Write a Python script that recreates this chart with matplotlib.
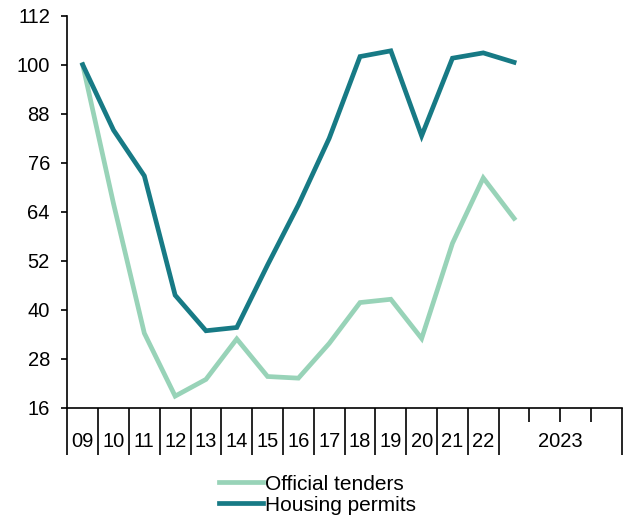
import numpy as np
import matplotlib
matplotlib.use("Agg")
import matplotlib.pyplot as plt

plt.rcParams['font.family'] = ['Liberation Sans', 'DejaVu Sans']

# Data (index)
years = ["09", "10", "11", "12", "13", "14", "15", "16", "17", "18", "19", "20", "21", "22", "2023"]
tenders = [100, 66, 34.3, 18.9, 23, 32.9, 23.7, 23.3, 31.8, 41.8, 42.6, 33, 56.3, 72.3, 62.4]
permits = [100, 84, 72.8, 43.6, 34.9, 35.7, 51, 65.7, 82, 102, 103.4, 82.6, 101.6, 102.9, 100.6]

# category layout: 14 single-year slots, last year spread over 4 slots
slot_widths = [1] * 14 + [4]
yticks = np.arange(16, 113, 12)

c_light = "#98d3b8"
c_dark = "#177a85"

fig = plt.figure(figsize=(6.26, 5.18), dpi=100)
ax = fig.add_axes([0.1075, 0.2124, 0.886, 0.7573])

x = np.arange(len(years)) + 0.5
ax.plot(x, tenders, color=c_light, lw=3.4, label="Official tenders", solid_joinstyle="miter")
ax.plot(x, permits, color=c_dark, lw=3.4, label="Housing permits", solid_joinstyle="miter")

edges = np.concatenate([[0], np.cumsum(slot_widths)])
ax.set_xlim(0, edges[-1])
ax.set_ylim(16, 112)
ax.set_yticks(yticks)
ax.tick_params(axis="y", labelsize=14.5, length=4.5, width=1.2, pad=8)

# major ticks at slot edges, minor ticks inside 2023
ax.set_xticks(edges)
ax.set_xticklabels([])
ax.set_xticks([15, 16, 17], minor=True)
ax.tick_params(axis="x", which="major", length=34, width=1.2)
ax.tick_params(axis="x", which="minor", length=10, width=1.2)

centers = (edges[:-1] + edges[1:]) / 2
for cx, lab in zip(centers, years):
    ax.text(cx, -0.085, lab, transform=ax.get_xaxis_transform(),
            ha="center", va="center", fontsize=14.5)

for s in ["top", "right"]:
    ax.spines[s].set_visible(False)
for s in ["left", "bottom"]:
    ax.spines[s].set_linewidth(1.2)

fig.legend(loc="lower center", bbox_to_anchor=(0.507, -0.03), frameon=False, fontsize=15,
           handlelength=2.1, handletextpad=0.1, labelspacing=0.1)

fig.savefig("out.png", dpi=100)
